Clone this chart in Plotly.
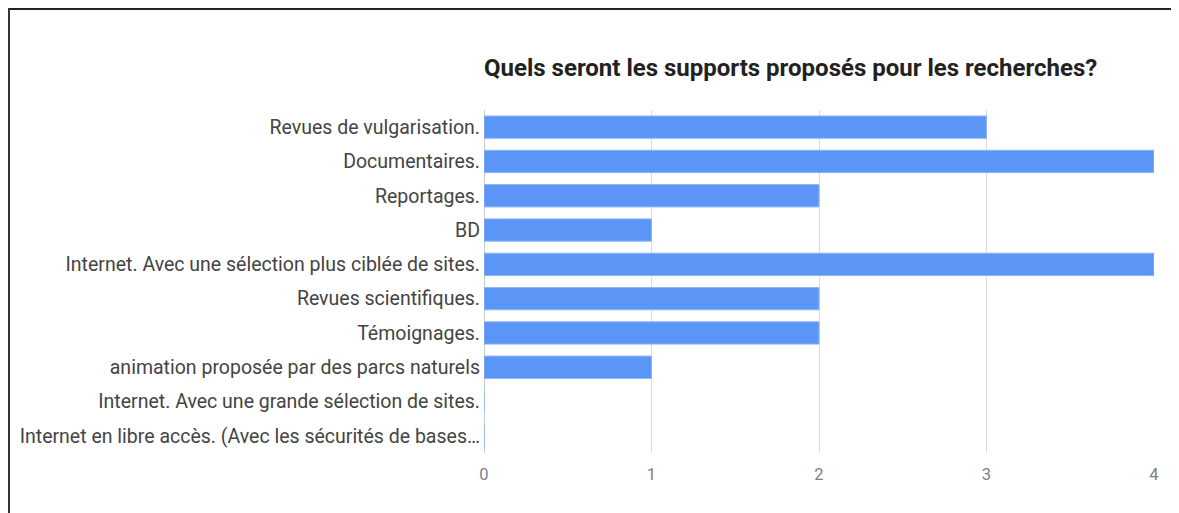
import plotly.graph_objects as go

categories = [
    "Revues de vulgarisation.",
    "Documentaires.",
    "Reportages.",
    "BD",
    "Internet. Avec une sélection plus ciblée de sites.",
    "Revues scientifiques.",
    "Témoignages.",
    "animation proposée par des parcs naturels",
    "Internet. Avec une grande sélection de sites.",
    "Internet en libre accès. (Avec les sécurités de bases…",
]
values = [3, 4, 2, 1, 4, 2, 2, 1, 0, 0]
x_ticks = [0, 1, 2, 3, 4]
title_text = "Quels seront les supports proposés pour les recherches?"

# page is offset by the 8px body margin
OFF = 8
W, H = 1179 - OFF, 513 - OFF
L, T = 484 - OFF, 110 - OFF
R = W - (1154 - OFF)
B = H - (453 - OFF)
pw, ph = W - L - R, H - T - B

def px(x):
    return (x - OFF - L) / pw

def py(y):
    return (H - B - (y - OFF)) / ph

fig = go.Figure(go.Bar(
    x=values, y=categories, orientation="h",
    marker=dict(color="#5B95F5", line=dict(color="#8DB5F8", width=1)),
    hoverinfo="x+y",
))

fig.update_layout(
    width=W, height=H,
    margin=dict(l=L, r=R, t=T, b=B),
    paper_bgcolor="white", plot_bgcolor="white",
    bargap=0.35,
    showlegend=False,
    font=dict(family="Roboto, Arial, sans-serif"),
    title=dict(
        text="<b>" + title_text + "</b>",
        font=dict(family="Roboto, Arial, sans-serif", size=24, color="#222222"),
        x=0, xref="paper", xanchor="left",
        y=1 - (68 - OFF) / H, yref="container", yanchor="middle",
    ),
    xaxis=dict(
        range=[0, 4], tickvals=x_ticks, ticktext=[str(v) for v in x_ticks],
        showgrid=True, gridcolor="#dddddd", gridwidth=1,
        zeroline=True, zerolinecolor="#c6cad2", zerolinewidth=1,
        ticks="", ticklabelstandoff=9,
        tickfont=dict(family="Roboto, Arial, sans-serif", size=16.5, color="#808080"),
        showline=False, fixedrange=True,
    ),
    yaxis=dict(
        autorange="reversed", ticks="", showgrid=False, zeroline=False,
        tickfont=dict(family="Roboto, Arial, sans-serif", size=19.5, color="#444444"),
        ticklabelstandoff=3, fixedrange=True,
    ),
    shapes=[
        dict(type="line", xref="paper", yref="paper",
             x0=px(8), x1=px(1185), y0=py(9), y1=py(9),
             line=dict(color="#222222", width=2)),
        dict(type="line", xref="paper", yref="paper",
             x0=px(9), x1=px(9), y0=py(8), y1=py(520),
             line=dict(color="#333333", width=2)),
    ],
)

fig.write_html("out.html")
